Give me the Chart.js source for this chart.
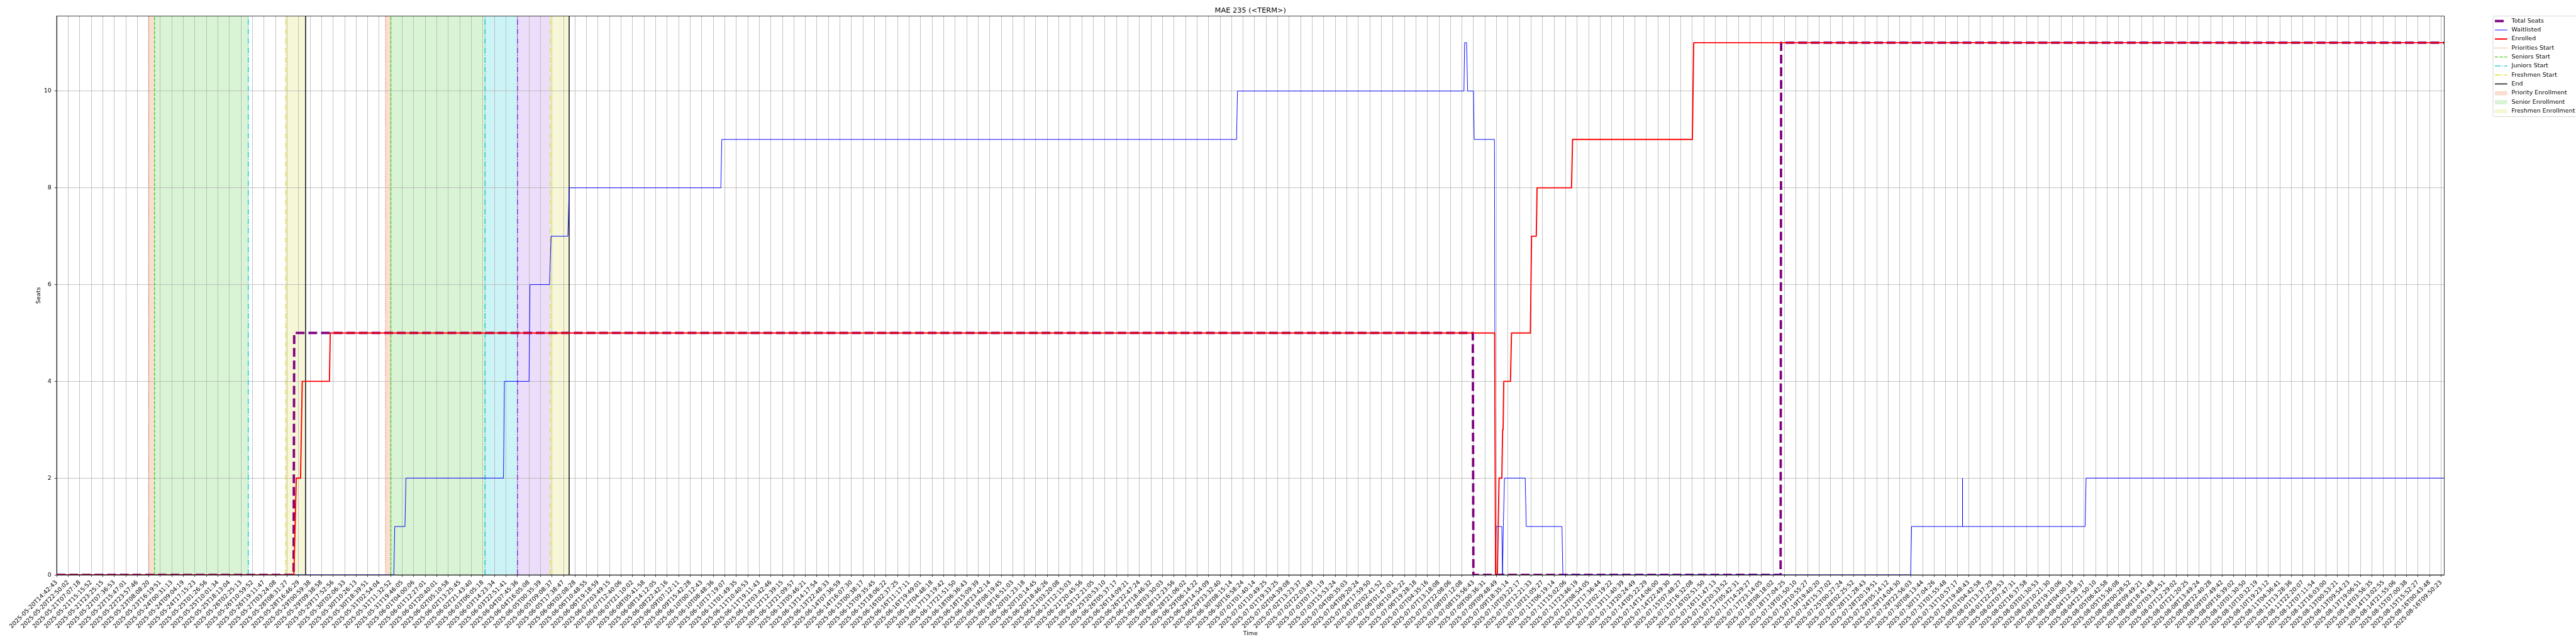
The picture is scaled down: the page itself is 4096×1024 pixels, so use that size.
<!DOCTYPE html>
<html>
<head>
<meta charset="utf-8">
<title>MAE 235 (&lt;TERM&gt;)</title>
<script src="https://cdn.jsdelivr.net/npm/chart.js@4.4.1/dist/chart.umd.min.js"></script>
<style>
    html, body { margin: 0; padding: 0; background: #ffffff; }
    canvas { display: block; }
</style>
</head>
<body>
<canvas id="seatsChart" width="4096" height="1024"></canvas>
<script>
// Tick labels, one per snapshot tick (x positions below are in tick units)
const tickLabels = [
    '2025-05-20T14:42:43', '2025-05-20T22:50:02', '2025-05-21T07:07:18', '2025-05-21T15:15:52',
    '2025-05-21T23:25:15', '2025-05-22T07:36:53', '2025-05-22T15:47:01', '2025-05-22T23:57:46',
    '2025-05-23T08:08:20', '2025-05-23T16:19:51', '2025-05-24T00:31:13', '2025-05-24T09:04:19',
    '2025-05-24T17:15:23', '2025-05-25T01:26:56', '2025-05-25T10:01:34', '2025-05-25T18:13:04',
    '2025-05-26T02:25:13', '2025-05-26T10:59:52', '2025-05-26T19:11:47', '2025-05-27T03:24:08',
    '2025-05-28T08:31:27', '2025-05-28T16:46:29', '2025-05-29T00:59:38', '2025-05-29T09:38:58',
    '2025-05-29T17:52:56', '2025-05-30T02:06:33', '2025-05-30T10:26:13', '2025-05-30T18:39:51',
    '2025-05-31T02:54:04', '2025-05-31T11:32:52', '2025-05-31T19:46:05', '2025-06-01T04:00:06',
    '2025-06-01T12:27:01', '2025-06-01T20:40:01', '2025-06-02T05:10:58', '2025-06-02T13:25:45',
    '2025-06-02T21:43:40', '2025-06-03T06:05:18', '2025-06-03T14:23:34', '2025-06-03T22:51:41',
    '2025-06-04T07:45:36', '2025-06-04T16:05:08', '2025-06-05T00:35:39', '2025-06-05T09:08:37',
    '2025-06-05T17:38:47', '2025-06-06T02:08:28', '2025-06-06T10:48:55', '2025-06-06T19:18:59',
    '2025-06-07T03:49:15', '2025-06-07T12:40:06', '2025-06-07T21:10:02', '2025-06-08T05:41:58',
    '2025-06-08T14:12:05', '2025-06-08T22:42:16', '2025-06-09T07:12:11', '2025-06-09T15:42:28',
    '2025-06-10T00:12:43', '2025-06-10T08:48:36', '2025-06-10T17:19:07', '2025-06-11T01:49:35',
    '2025-06-11T10:40:53', '2025-06-11T19:11:43', '2025-06-12T03:42:46', '2025-06-12T12:39:15',
    '2025-06-12T21:09:57', '2025-06-13T05:46:21', '2025-06-13T14:17:54', '2025-06-13T22:48:33',
    '2025-06-14T07:36:59', '2025-06-14T16:07:30', '2025-06-15T00:38:17', '2025-06-15T09:35:45',
    '2025-06-15T18:06:22', '2025-06-16T02:37:25', '2025-06-16T11:17:11', '2025-06-16T19:49:01',
    '2025-06-17T04:48:18', '2025-06-17T13:19:42', '2025-06-17T21:51:50', '2025-06-18T06:36:43',
    '2025-06-18T15:09:39', '2025-06-18T23:42:14', '2025-06-19T08:19:45', '2025-06-19T16:51:03',
    '2025-06-20T01:23:18', '2025-06-20T10:14:45', '2025-06-20T18:46:26', '2025-06-21T03:20:08',
    '2025-06-21T12:15:03', '2025-06-21T20:45:56', '2025-06-25T12:21:05', '2025-06-25T20:53:10',
    '2025-06-26T05:37:17', '2025-06-26T14:09:21', '2025-06-26T22:47:24', '2025-06-27T18:46:32',
    '2025-06-28T03:30:03', '2025-06-28T12:23:56', '2025-06-28T21:06:02', '2025-06-29T06:14:22',
    '2025-06-29T14:54:09', '2025-06-29T23:32:40', '2025-06-30T08:15:14', '2025-06-30T16:58:24',
    '2025-07-01T01:40:14', '2025-07-01T10:49:25', '2025-07-01T19:33:25', '2025-07-02T04:39:08',
    '2025-07-02T13:23:37', '2025-07-02T22:03:49', '2025-07-03T07:11:19', '2025-07-03T15:53:24',
    '2025-07-04T00:35:03', '2025-07-04T09:20:24', '2025-07-04T17:59:50', '2025-07-05T02:41:52',
    '2025-07-06T01:47:01', '2025-07-06T10:45:22', '2025-07-06T19:28:18', '2025-07-07T04:35:16',
    '2025-07-07T13:18:08', '2025-07-07T22:08:06', '2025-07-08T07:12:08', '2025-07-08T15:56:43',
    '2025-07-09T00:36:31', '2025-07-09T09:48:49', '2025-07-09T18:35:14', '2025-07-10T03:22:17',
    '2025-07-10T12:21:33', '2025-07-10T21:05:27', '2025-07-11T06:19:14', '2025-07-11T15:02:06',
    '2025-07-11T23:46:19', '2025-07-12T08:54:05', '2025-07-12T17:36:44', '2025-07-13T02:19:22',
    '2025-07-13T11:40:39', '2025-07-13T20:24:49', '2025-07-14T05:22:29', '2025-07-14T14:06:00',
    '2025-07-14T22:49:30', '2025-07-15T07:48:27', '2025-07-15T16:32:08', '2025-07-16T02:51:50',
    '2025-07-16T11:47:13', '2025-07-16T20:33:52', '2025-07-17T05:42:31', '2025-07-17T14:29:27',
    '2025-07-17T23:14:05', '2025-07-18T08:18:02', '2025-07-18T17:04:25', '2025-07-19T01:50:10',
    '2025-07-19T10:55:27', '2025-07-19T19:40:20', '2025-07-24T15:37:02', '2025-07-25T00:27:24',
    '2025-07-28T02:25:52', '2025-07-28T11:28:43', '2025-07-28T20:19:51', '2025-07-29T05:14:12',
    '2025-07-29T14:04:30', '2025-07-29T22:56:03', '2025-07-30T08:13:44', '2025-07-30T17:04:26',
    '2025-07-31T01:55:48', '2025-07-31T10:57:17', '2025-07-31T19:48:43', '2025-08-01T04:42:58',
    '2025-08-01T13:37:29', '2025-08-01T22:29:53', '2025-08-02T07:47:31', '2025-08-02T16:37:58',
    '2025-08-03T01:30:53', '2025-08-03T10:21:30', '2025-08-03T19:10:06', '2025-08-04T04:00:18',
    '2025-08-04T12:58:37', '2025-08-04T21:50:10', '2025-08-05T06:42:58', '2025-08-05T15:36:08',
    '2025-08-06T00:28:52', '2025-08-06T09:49:21', '2025-08-06T18:41:48', '2025-08-07T03:34:51',
    '2025-08-07T12:29:02', '2025-08-07T21:20:25', '2025-08-08T13:49:24', '2025-08-08T22:40:28',
    '2025-08-09T07:49:42', '2025-08-09T16:39:02', '2025-08-10T01:30:50', '2025-08-10T10:32:19',
    '2025-08-10T19:23:12', '2025-08-11T04:36:41', '2025-08-11T13:28:36', '2025-08-11T22:20:07',
    '2025-08-12T07:11:54', '2025-08-12T16:03:00', '2025-08-13T00:53:21', '2025-08-13T09:54:23',
    '2025-08-13T19:06:51', '2025-08-14T03:56:35', '2025-08-14T13:02:55', '2025-08-14T21:55:06',
    '2025-08-15T07:00:38', '2025-08-15T15:52:27', '2025-08-16T00:43:48', '2025-08-16T09:50:23'
];
const xEnd = 207.27;
const seatTicks = [0, 2, 4, 6, 8, 10];
const seatMax = 11.55;

// Step series (x in tick units, y in seats)
const totalSeatsX = [0, 20.57, 20.62, 122.94, 122.99, 149.66, 149.71, xEnd];
const totalSeatsY = [0, 0, 5, 5, 0, 0, 11, 11];

const waitlistX = [0, 29.27, 29.35, 30.24, 30.32, 38.79, 38.87, 41.01, 41.09, 42.79, 42.92, 44.38, 44.49,
    57.66, 57.74, 102.43, 102.51, 122.17, 122.23, 122.40, 122.49, 123.00, 123.06, 124.82, 124.90,
    124.97, 125.46, 125.52, 125.59, 125.69, 127.49, 127.58, 130.68, 130.76, 160.95, 161.03,
    165.44, 165.45, 165.46, 176.10, 176.18, xEnd];
const waitlistY = [0, 0, 1, 1, 2, 2, 4, 4, 6, 6, 7, 7, 8,
    8, 9, 9, 10, 10, 11, 11, 10, 10, 9, 9, 0,
    1, 1, 0, 1, 2, 2, 1, 1, 0, 0, 1,
    1, 2, 1, 1, 2, 2];

const enrolledX = [0, 20.59, 20.70, 20.80, 21.17, 21.32, 23.68, 23.75, 124.84, 124.92, 125.07, 125.22,
    125.46, 125.53, 125.57, 125.63, 126.21, 126.30, 127.94, 128.04, 128.45, 128.52, 131.51, 131.60,
    142.00, 142.12, xEnd];
const enrolledY = [0, 0, 1, 2, 2, 4, 4, 5, 5, 0, 0, 2,
    2, 3, 3, 4, 4, 5, 5, 7, 7, 8, 8, 9,
    9, 11, 11];

// Enrollment phase markers (tick units)
const priorityStarts = [7.98, 28.54];
const seniorStarts = [8.50, 29.01];
const juniorStarts = [16.63, 37.19];
const sophomoreStarts = [40.01];
const freshmenStarts = [19.89, 42.84];
const endTimes = [21.61, 44.49];

const priorityPeriods = [[7.98, 8.50], [28.54, 29.01]];
const seniorPeriods = [[8.50, 16.63], [29.01, 37.19]];
const juniorPeriods = [[37.19, 40.01]];
const sophomorePeriods = [[40.01, 42.84]];
const freshmenPeriods = [[19.89, 21.61], [42.84, 44.49]];

const FONT = "'DejaVu Sans', 'Liberation Sans', sans-serif";
const SCALE = 4096 / 6000;
const PT = 100 / 72 * SCALE; // one matplotlib point in canvas pixels

const toPoints = (xs, ys) => xs.map((x, i) => ({ x: x, y: ys[i] }));

const spanStyles = [
    { periods: priorityPeriods, fill: 'rgba(226, 104, 48, 0.22)' },
    { periods: seniorPeriods, fill: 'rgba(60, 200, 40, 0.2)' },
    { periods: juniorPeriods, fill: 'rgba(0, 200, 210, 0.2)' },
    { periods: sophomorePeriods, fill: 'rgba(138, 43, 226, 0.16)' },
    { periods: freshmenPeriods, fill: 'rgba(210, 210, 40, 0.18)' }
];

const dotted = [1.2 * PT, 1.98 * PT];
const dashed = [5.55 * PT, 2.4 * PT];
const dashDot = [9.6 * PT, 2.4 * PT, 1.5 * PT, 2.4 * PT];

const markerStyles = [
    { values: priorityStarts, color: '#e4672f', width: 1.2 * PT, dash: dotted },
    { values: seniorStarts, color: '#44cc22', width: 1.5 * PT, dash: dashed },
    { values: juniorStarts, color: '#11c5cc', width: 1.5 * PT, dash: dashDot },
    { values: sophomoreStarts, color: '#8a2be2', width: 1.5 * PT, dash: dashDot },
    { values: freshmenStarts, color: '#dede30', width: 1.5 * PT, dash: dashDot },
    { values: endTimes, color: '#000000', width: 1.5 * PT, dash: [] }
];

const legendEntries = [
    { label: 'Total Seats', color: '#800080', width: 4 * PT, dash: [14.8 * PT, 6.4 * PT] },
    { label: 'Waitlisted', color: '#0000ff', width: 1 * PT, dash: [] },
    { label: 'Enrolled', color: '#ff0000', width: 2 * PT, dash: [] },
    { label: 'Priorities Start', color: '#e4672f', width: 1.2 * PT, dash: dotted },
    { label: 'Seniors Start', color: '#44cc22', width: 1.5 * PT, dash: dashed },
    { label: 'Juniors Start', color: '#11c5cc', width: 1.5 * PT, dash: dashDot },
    { label: 'Freshmen Start', color: '#dede30', width: 1.5 * PT, dash: dashDot },
    { label: 'End', color: '#000000', width: 1.5 * PT, dash: [] },
    { label: 'Priority Enrollment', patch: 'rgba(226, 104, 48, 0.22)' },
    { label: 'Senior Enrollment', patch: 'rgba(60, 200, 40, 0.2)' },
    { label: 'Freshmen Enrollment', patch: 'rgba(210, 210, 40, 0.18)' }
];

// Shaded periods go under the grid, marker lines under the data
const phasePlugin = {
    id: 'phases',
    beforeDraw(chart) {
        const { ctx, chartArea: area, scales: { x } } = chart;
        ctx.save();
        spanStyles.forEach(style => {
            ctx.fillStyle = style.fill;
            style.periods.forEach(([start, end]) => {
                const x0 = x.getPixelForValue(start);
                const x1 = x.getPixelForValue(end);
                ctx.fillRect(x0, area.top, x1 - x0, area.bottom - area.top);
            });
        });
        ctx.restore();
    },
    beforeDatasetsDraw(chart) {
        const { ctx, chartArea: area, scales: { x } } = chart;
        ctx.save();
        ctx.beginPath();
        ctx.rect(area.left, area.top, area.right - area.left, area.bottom - area.top);
        ctx.clip();
        markerStyles.forEach(style => {
            ctx.strokeStyle = style.color;
            ctx.lineWidth = style.width;
            ctx.setLineDash(style.dash);
            style.values.forEach(v => {
                const px = x.getPixelForValue(v);
                ctx.beginPath();
                ctx.moveTo(px, area.bottom);
                ctx.lineTo(px, area.top);
                ctx.stroke();
            });
        });
        ctx.restore();
    },
    afterDraw(chart) {
        const { ctx, chartArea: area } = chart;
        ctx.save();
        // axes frame
        ctx.strokeStyle = '#000000';
        ctx.lineWidth = 0.8 * PT;
        ctx.setLineDash([]);
        ctx.strokeRect(area.left, area.top, area.right - area.left, area.bottom - area.top);
        drawLegend(ctx);
        ctx.restore();
    }
};

// Legend sits outside the axes on the right, like bbox_to_anchor=(1.02, 1)
function drawLegend(ctx) {
    const boxLeft = 5806.7 * SCALE, boxTop = 37.3 * SCALE, boxBottom = 271.7 * SCALE;
    const rowTop = 49 * SCALE, rowStep = 20.93 * SCALE;
    const handleLeft = 5811 * SCALE, handleRight = 5840 * SCALE, textLeft = 5850 * SCALE;

    ctx.fillStyle = 'rgba(255, 255, 255, 0.8)';
    ctx.strokeStyle = '#cccccc';
    ctx.lineWidth = 0.8 * PT;
    ctx.beginPath();
    ctx.roundRect(boxLeft, boxTop, 4110 - boxLeft, boxBottom - boxTop, 2.5);
    ctx.fill();
    ctx.stroke();

    ctx.font = `${10 * PT}px ${FONT}`;
    ctx.textBaseline = 'middle';
    ctx.textAlign = 'left';
    legendEntries.forEach((entry, i) => {
        const y = rowTop + i * rowStep;
        if (entry.patch) {
            const h = 7 * PT;
            ctx.fillStyle = entry.patch;
            ctx.fillRect(handleLeft, y - h / 2 + 0.5, handleRight - handleLeft, h);
        } else {
            ctx.strokeStyle = entry.color;
            ctx.lineWidth = entry.width;
            ctx.setLineDash(entry.dash);
            ctx.beginPath();
            ctx.moveTo(handleLeft, y);
            ctx.lineTo(handleRight, y);
            ctx.stroke();
            ctx.setLineDash([]);
        }
        ctx.fillStyle = '#000000';
        ctx.fillText(entry.label, textLeft, y);
    });
}

function renderSeatsChart() {
    const ctx = document.getElementById('seatsChart').getContext('2d');
    const plotLeft = 132 * SCALE, plotRight = 5693 * SCALE, plotBottom = 1339 * SCALE;
    new Chart(ctx, {
        type: 'line',
        data: {
            datasets: [
                {
                    label: 'Enrolled',
                    data: toPoints(enrolledX, enrolledY),
                    borderColor: '#ff0000',
                    borderWidth: 2 * PT,
                    order: 0
                },
                {
                    label: 'Waitlisted',
                    data: toPoints(waitlistX, waitlistY),
                    borderColor: '#0000ff',
                    borderWidth: 1 * PT,
                    order: 1
                },
                {
                    label: 'Total Seats',
                    data: toPoints(totalSeatsX, totalSeatsY),
                    borderColor: '#800080',
                    borderWidth: 4 * PT,
                    borderDash: [14.8 * PT, 6.4 * PT],
                    order: 2
                }
            ]
        },
        options: {
            responsive: false,
            animation: false,
            devicePixelRatio: 1,
            layout: { padding: { left: 0, top: 0, right: 4096 - plotRight, bottom: 0 } },
            elements: {
                point: { radius: 0, hoverRadius: 0 },
                line: { tension: 0, fill: false, borderJoinStyle: 'round', borderCapStyle: 'butt' }
            },
            datasets: { line: { clip: 0 } },
            scales: {
                x: {
                    type: 'linear',
                    min: 0,
                    max: xEnd,
                    afterBuildTicks: scale => {
                        scale.ticks = tickLabels.map((_, i) => ({ value: i }));
                    },
                    afterFit: scale => {
                        scale.height = 1024 - plotBottom;
                        scale.paddingLeft = 0;
                        scale.paddingRight = 0;
                    },
                    grid: {
                        color: '#b0b0b0',
                        lineWidth: 0.8 * PT,
                        tickColor: '#000000',
                        tickWidth: 0.8 * PT,
                        tickLength: 3.5 * PT
                    },
                    border: { color: '#000000', width: 0.8 * PT },
                    ticks: {
                        autoSkip: false,
                        minRotation: 45,
                        maxRotation: 45,
                        padding: 3.5 * PT,
                        color: '#000000',
                        font: { family: FONT, size: 10 * PT },
                        callback: value => tickLabels[value]
                    },
                    title: {
                        display: true,
                        text: 'Time',
                        color: '#000000',
                        font: { family: FONT, size: 10 * PT },
                        padding: { top: 0, bottom: 10.7 }
                    }
                },
                y: {
                    type: 'linear',
                    min: 0,
                    max: seatMax,
                    afterBuildTicks: scale => {
                        scale.ticks = seatTicks.map(v => ({ value: v }));
                    },
                    afterFit: scale => {
                        scale.width = plotLeft;
                        scale.paddingTop = 0;
                        scale.paddingBottom = 0;
                    },
                    grid: {
                        color: '#b0b0b0',
                        lineWidth: 0.8 * PT,
                        tickColor: '#000000',
                        tickWidth: 0.8 * PT,
                        tickLength: 3.5 * PT
                    },
                    border: { color: '#000000', width: 0.8 * PT },
                    ticks: {
                        padding: 5,
                        color: '#000000',
                        font: { family: FONT, size: 10 * PT }
                    },
                    title: {
                        display: true,
                        text: 'Seats',
                        color: '#000000',
                        font: { family: FONT, size: 10 * PT },
                        padding: { top: 55.7, bottom: 0 }
                    }
                }
            },
            plugins: {
                legend: { display: false },
                tooltip: { enabled: false },
                title: {
                    display: true,
                    text: 'MAE 235 (<TERM>)',
                    fullSize: false,
                    color: '#000000',
                    font: { family: FONT, size: 12 * PT, weight: 'normal' },
                    padding: { top: 9.9, bottom: 2.0 }
                }
            }
        },
        plugins: [phasePlugin]
    });
}

document.addEventListener('DOMContentLoaded', renderSeatsChart);
</script>
</body>
</html>
